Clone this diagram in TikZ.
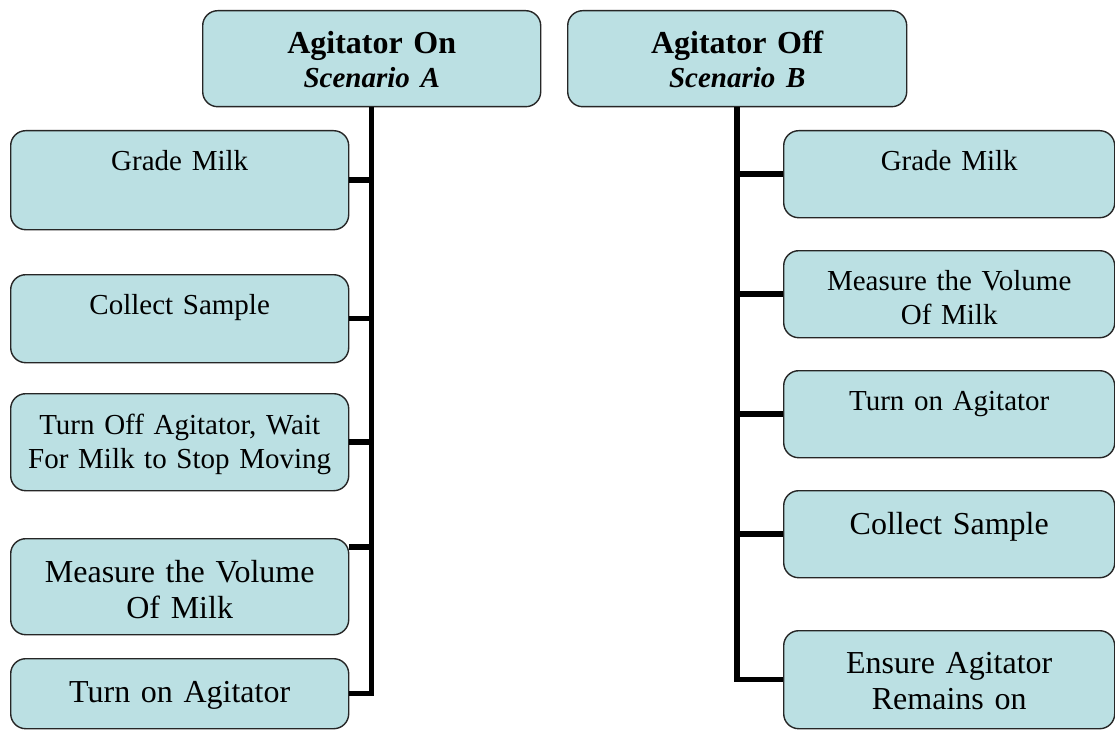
\documentclass[tikz,border=0pt]{standalone}
\usepackage{fontspec}
\setmainfont{Liberation Serif}
\definecolor{boxfill}{RGB}{187,224,227}

\begin{document}
\begin{tikzpicture}[x=1pt, y=-1pt,
    stepbox/.style={rectangle, draw=black!85, line width=1.4pt, fill=boxfill, rounded corners=15pt, inner sep=0pt, anchor=north west, align=center},
    small/.style={font=\fontsize{29}{34}\selectfont},
    big/.style={font=\fontsize{32}{36}\selectfont},
    head/.style={font=\fontsize{32}{34}\selectfont\bfseries},
    link/.style={line width=5.5pt, line join=miter}]
    \useasboundingbox (0,0) rectangle (1115,730);
    % headers
    \node[stepbox, head, text width=338pt, text height=43pt, text depth=53pt] (hdA) at (202,10) {Agitator On\\{\fontsize{29}{34}\selectfont\itshape Scenario A}};
    \node[stepbox, head, text width=339pt, text height=43pt, text depth=53pt] (hdB) at (567,10) {Agitator Off\\{\fontsize{29}{34}\selectfont\itshape Scenario B}};
    % scenario A
    \node[stepbox, small, text width=338pt, text height=40pt, text depth=59pt] (gradeA) at (10,130) {Grade Milk};
    \node[stepbox, small, text width=338pt, text height=40pt, text depth=48pt] (sampleA) at (10,274) {Collect Sample};
    \node[stepbox, small, text width=338pt, text height=41pt, text depth=56pt] (waitA) at (10,393) {Turn Off Agitator, Wait\\For Milk to Stop Moving};
    \node[stepbox, big, text width=338pt, text height=44pt, text depth=52pt] (volumeA) at (10,538) {Measure the Volume\\Of Milk};
    \node[stepbox, big, text width=338pt, text height=44pt, text depth=26pt] (agitA) at (10,658) {Turn on Agitator};
    % scenario B
    \node[stepbox, small, text width=331pt, text height=40pt, text depth=47pt] (gradeB) at (783,130) {Grade Milk};
    \node[stepbox, small, text width=331pt, text height=40pt, text depth=47pt] (volumeB) at (783,250) {Measure the Volume\\Of Milk};
    \node[stepbox, small, text width=331pt, text height=40pt, text depth=47pt] (agitB) at (783,370) {Turn on Agitator};
    \node[stepbox, big, text width=331pt, text height=44pt, text depth=43pt] (sampleB) at (783,490) {Collect Sample};
    \node[stepbox, big, text width=331pt, text height=43pt, text depth=55pt] (ensureB) at (783,630) {Ensure Agitator\\Remains on};
    % connectors
    \draw[link] (hdA.south) |- (agitA.east);
    \draw[link] (gradeA.east) -- (gradeA.east -| hdA.south);
    \draw[link] (sampleA.east) -- (sampleA.east -| hdA.south);
    \draw[link] (waitA.east) -- (waitA.east -| hdA.south);
    \draw[link] ([yshift=-9pt]volumeA.north east) -- ([yshift=-9pt]volumeA.north east -| hdA.south);
    \draw[link] (hdB.south) |- (ensureB.west);
    \draw[link] (gradeB.west) -- (gradeB.west -| hdB.south);
    \draw[link] (volumeB.west) -- (volumeB.west -| hdB.south);
    \draw[link] (agitB.west) -- (agitB.west -| hdB.south);
    \draw[link] (sampleB.west) -- (sampleB.west -| hdB.south);
\end{tikzpicture}
\end{document}
